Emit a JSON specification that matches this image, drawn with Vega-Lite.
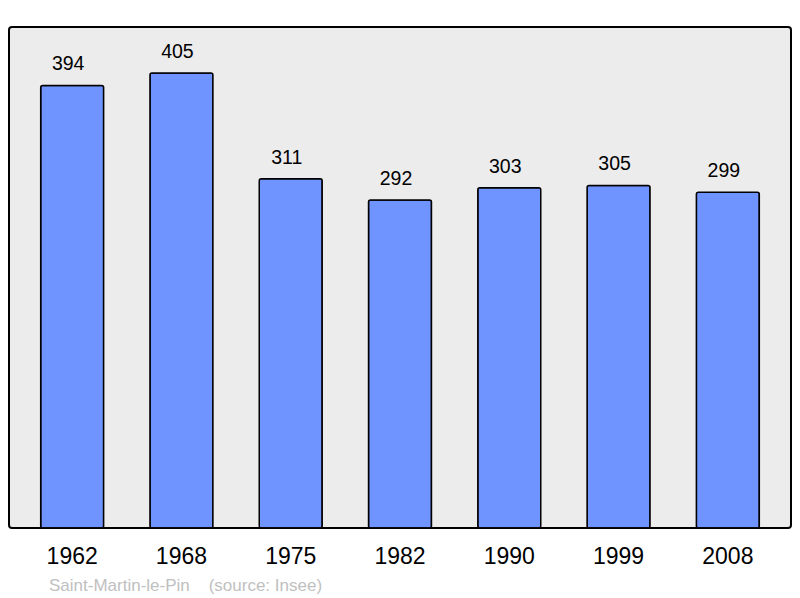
{
  "$schema": "https://vega.github.io/schema/vega-lite/v6.json",
  "width": 782,
  "height": 501,
  "autosize": {"type": "none"},
  "padding": {"left": 9, "top": 27, "right": 9, "bottom": 70},
  "background": "white",
  "config": {
    "font": "Liberation Sans",
    "view": {"stroke": "#000000", "strokeWidth": 2, "fill": "#ececec", "cornerRadius": 3}
  },
  "title": {
    "text": "Saint-Martin-le-Pin\u00a0\u00a0\u00a0\u00a0(source: Insee)",
    "orient": "bottom",
    "anchor": "start",
    "dx": 40,
    "offset": 10,
    "fontSize": 17,
    "fontWeight": "normal",
    "color": "#c0c0c0",
    "font": "Liberation Sans"
  },
  "data": {
    "values": [
      {"year": "1962", "pop": 394},
      {"year": "1968", "pop": 405},
      {"year": "1975", "pop": 311},
      {"year": "1982", "pop": 292},
      {"year": "1990", "pop": 303},
      {"year": "1999", "pop": 305},
      {"year": "2008", "pop": 299}
    ]
  },
  "encoding": {
    "x": {
      "field": "year",
      "type": "ordinal",
      "sort": null,
      "scale": {"paddingInner": 0.424, "paddingOuter": 0.29},
      "axis": {
        "title": null,
        "domain": false,
        "ticks": false,
        "labelAngle": 0,
        "labelFontSize": 23,
        "labelColor": "#000000",
        "labelPadding": 17,
        "labelFont": "Liberation Sans"
      }
    },
    "y": {
      "field": "pop",
      "type": "quantitative",
      "scale": {"domain": [0, 446], "nice": false, "zero": true},
      "axis": null
    }
  },
  "layer": [
    {
      "mark": {"type": "bar", "fill": "#7094ff", "stroke": "#000000", "strokeWidth": 1.5, "cornerRadius": 2}
    },
    {
      "mark": {"type": "text", "baseline": "alphabetic", "dy": -15, "dx": -4, "fontSize": 19.5, "color": "#000000"},
      "encoding": {"text": {"field": "pop", "type": "quantitative"}}
    }
  ]
}
